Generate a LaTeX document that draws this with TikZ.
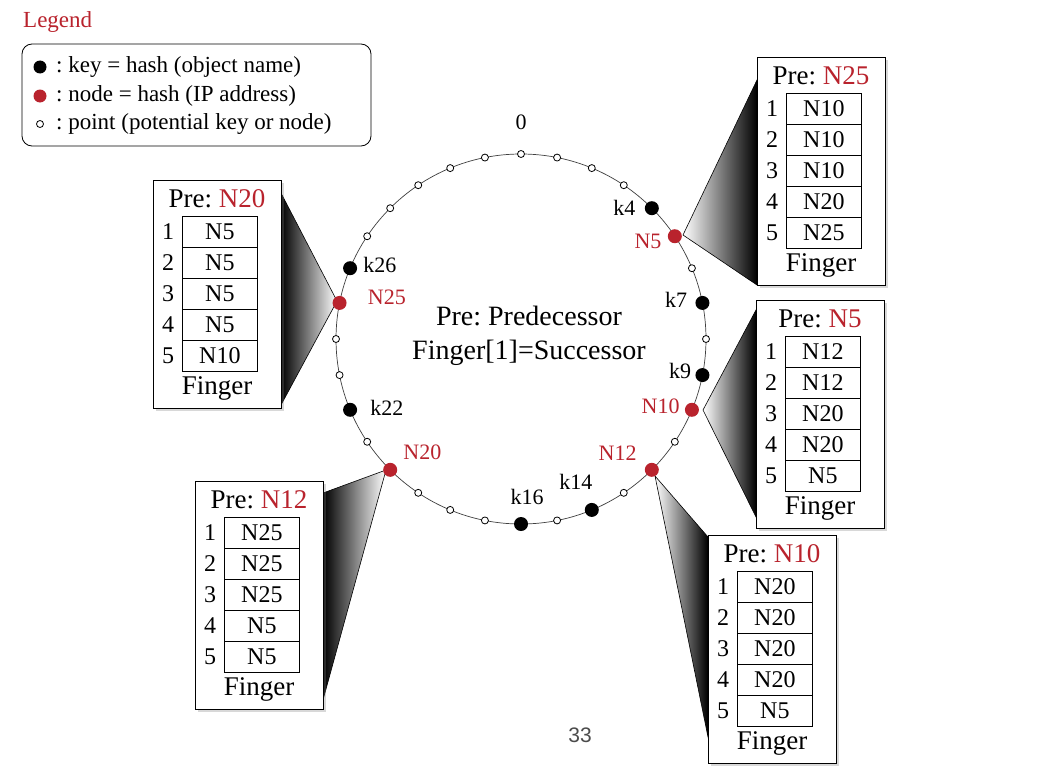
\documentclass[tikz,border=0pt]{standalone}
\usepackage{fontspec}
\setmainfont{Liberation Serif}
\newfontfamily\pagefont{Liberation Sans}
\usetikzlibrary{positioning,calc,shadows}
\definecolor{chordred}{RGB}{185,35,45}
\frenchspacing
\begin{document}
\begin{tikzpicture}[x=1pt,y=-1pt,
	pt/.style={circle,draw,fill=white,inner sep=0pt,minimum size=7pt,line width=.8pt},
	keydot/.style={circle,fill=black,inner sep=0pt,minimum size=14pt},
	nodedot/.style={circle,fill=chordred,inner sep=0pt,minimum size=14pt},
	lbl/.style={inner sep=1pt,font=\fontsize{22}{26}\selectfont},
	nlbl/.style={lbl,text=chordred},
	legtext/.style={inner sep=1pt,anchor=west,font=\fontsize{23}{27}\selectfont},
	fbox/.style={draw,fill=white,line width=.8pt,minimum width=128pt,minimum height=228pt,
		anchor=north west,drop shadow={shadow xshift=3pt,shadow yshift=-3pt,opacity=.3}},
	cell/.style={draw,line width=.7pt,anchor=north west,minimum width=75pt,minimum height=31pt,
		inner sep=0pt,font=\fontsize{24}{28}\selectfont},
	bigtext/.style={inner sep=1pt,font=\fontsize{27}{33}\selectfont},
	wedgel/.style={draw,line width=.6pt,left color=black,right color=white},
	wedger/.style={draw,line width=.6pt,left color=white,right color=black}]
\fill[white] (0,0) rectangle (1062,776);
\useasboundingbox (0,0) rectangle (1062,776);
% legend
\node[legtext,text=chordred] (legend) at (22,22) {Legend};
\draw[line width=.8pt,rounded corners=10pt] (22,44) rectangle (371,146);
\node[keydot,minimum size=13pt] (lk) at (40,67) {};
\node[nodedot,minimum size=13pt] (ln) at (40,96) {};
\node[pt] (lp) at (40,124) {};
\node[legtext] (lkt) at (55,67) {: key = hash (object name)};
\node[legtext] (lnt) at (55,96) {: node = hash (IP address)};
\node[legtext] (lpt) at (55,124) {: point (potential key or node)};
% ring of 32 points
\draw[line width=.7pt,darkgray] (521,339) circle[radius=185];
\foreach \i in {0,...,31}
	\coordinate (p\i) at ({521+185*sin(\i*11.25)},{339-185*cos(\i*11.25)});
% finger tables
\foreach \tb/\bx/\by in {A/153/180,B/757/57,C/756/300,D/195/481,E/708/535}
	\coordinate (c\tb) at (\bx,\by);
\path[wedgel] (337,301) -- ($(cA)+(128,13)$) -- ($(cA)+(128,225)$) -- cycle;
\path[wedger] (683,235) -- ($(cB)+(0,23)$) -- ($(cB)+(0,228)$) -- cycle;
\path[wedger] (703,410) -- ($(cC)+(0,10)$) -- ($(cC)+(0,217)$) -- cycle;
\path[wedgel] (386,470) -- ($(cD)+(128,12)$) -- ($(cD)+(128,219)$) -- cycle;
\path[wedger] (655,476) -- ($(cE)+(0,2)$) -- ($(cE)+(0,202)$) -- cycle;
\foreach \tb/\bx/\by/\prenode/\fing in {A/153/180/N20/{N5,N5,N5,N5,N10},
		B/757/57/N25/{N10,N10,N10,N20,N25},C/756/300/N5/{N12,N12,N20,N20,N5},
		D/195/481/N12/{N25,N25,N25,N5,N5},E/708/535/N10/{N20,N20,N20,N20,N5}}{
	\node[fbox] (\tb) at (\bx,\by) {};
	\node[bigtext] (\tb-pre) at ({\bx+64},{\by+19}) {Pre: \textcolor{chordred}{\prenode}};
	\foreach \e [count=\r] in \fing {
		\node[cell] (\tb-c\r) at ({\bx+29},{\by+36+31*(\r-1)}) {\e};
		\node[lbl,font=\fontsize{24}{28}\selectfont] (\tb-n\r) at ({\bx+15},{\by+51.5+31*(\r-1)}) {\r};
	}
	\node[bigtext] (\tb-fing) at ({\bx+64},{\by+208}) {Finger};
}
% points, keys and nodes
\foreach \i in {0,1,2,3,6,8,11,13,15,17,18,19,21,23,24,27,28,29,30,31}
	\node[pt] (q\i) at (p\i) {};
\foreach \i in {4,7,9,14,16,22,26}
	\node[keydot] (k\i) at (p\i) {};
\foreach \i in {5,10,12,20,25}
	\node[nodedot] (n\i) at (p\i) {};
\node[lbl,above=19pt of q0] (t0) {0};
\node[lbl,left=8pt of k4] (t4) {k4};
\node[nlbl,left=5pt of n5,yshift=-5pt] (t5) {N5};
\node[lbl,left=7pt of k7,yshift=3pt] (t7) {k7};
\node[lbl,left=3pt of k9,yshift=4pt] (t9) {k9};
\node[nlbl,left=4pt of n10,yshift=4pt] (t10) {N10};
\node[nlbl,above left=3pt and 9pt of n12] (t12) {N12};
\node[lbl,above=12pt of k14,xshift=-16pt] (t14) {k14};
\node[lbl,above=11pt of k16,xshift=6pt] (t16) {k16};
\node[nlbl,above right=4pt and 7pt of n20] (t20) {N20};
\node[lbl,right=12pt of k22,yshift=2pt] (t22) {k22};
\node[nlbl,right=20pt of n25,yshift=6pt] (t25) {N25};
\node[lbl,right=5pt of k26,yshift=3pt] (t26) {k26};
% centre text and page number
\node[bigtext,align=center,font=\fontsize{28}{34}\selectfont] (info) at (529,336) {Pre: Predecessor\\Finger[1]=Successor};
\node[text=black!70,font=\pagefont\fontsize{21}{24}\selectfont] (page) at (580,735) {33};
\end{tikzpicture}
\end{document}
